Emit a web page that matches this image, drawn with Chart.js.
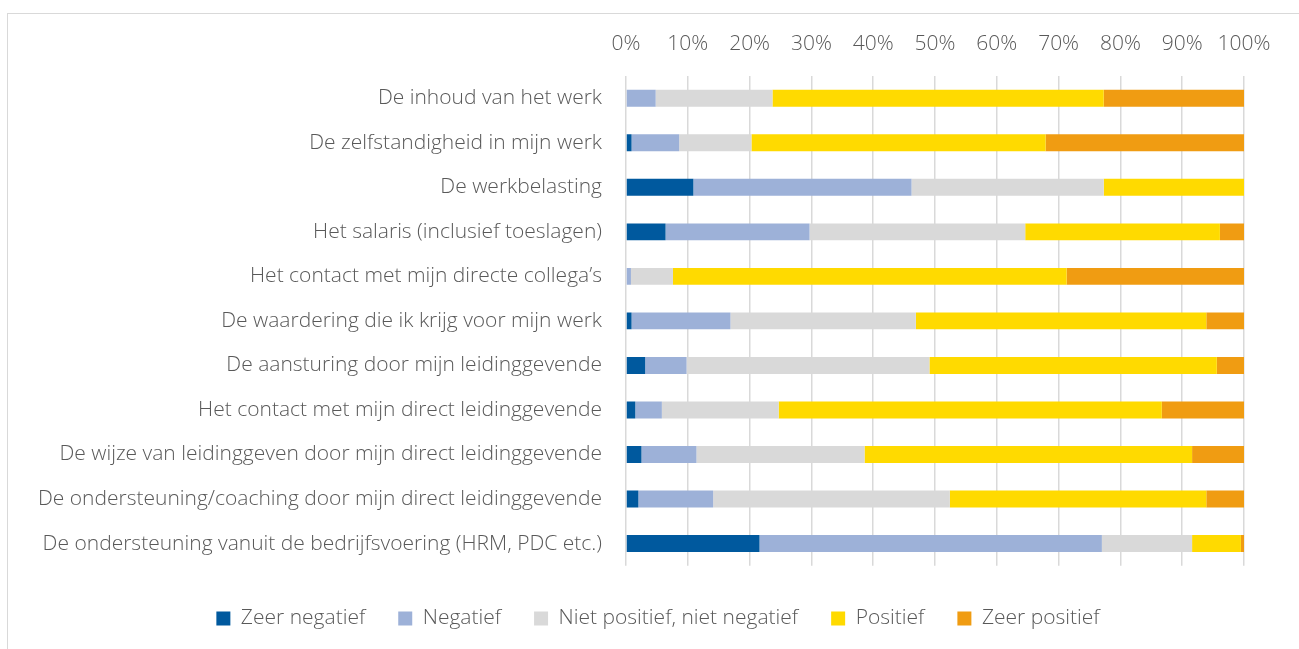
<!DOCTYPE html>
<html>
<head>
<meta charset="utf-8">
<script src="https://cdn.jsdelivr.net/npm/chart.js@4.4.1/dist/chart.umd.min.js"></script>
<style>
    html, body { margin: 0; padding: 0; background: #fff; overflow: hidden; }
    #frame { position: absolute; left: 7px; top: 13px; width: 1300px; height: 650px; border: 1px solid #d9d9d9; }
    #wrap { position: absolute; left: 0; top: 0; width: 1299px; height: 649px; }
</style>
</head>
<body>
<div id="frame"></div>
<div id="wrap"><canvas id="chart" width="1299" height="649"></canvas></div>
<script>
// Categories (top to bottom)
const categories = [
    'De inhoud van het werk',
    'De zelfstandigheid in mijn werk',
    'De werkbelasting',
    'Het salaris (inclusief toeslagen)',
    'Het contact met mijn directe collega\u2019s',
    'De waardering die ik krijg voor mijn werk',
    'De aansturing door mijn leidinggevende',
    'Het contact met mijn direct leidinggevende',
    'De wijze van leidinggeven door mijn direct leidinggevende',
    'De ondersteuning/coaching door mijn direct leidinggevende',
    'De ondersteuning vanuit de bedrijfsvoering (HRM, PDC etc.)'
];

// Series values (percent)
const zeerNegatief = [0, 0.9, 10.9, 6.4, 0, 0.9, 3.1, 1.5, 2.5, 2.0, 21.6];
const negatief     = [4.8, 7.7, 35.3, 23.3, 0.8, 16.0, 6.7, 4.3, 8.9, 12.1, 55.4];
const neutraal     = [18.9, 11.7, 31.1, 34.9, 6.8, 30.0, 39.3, 18.9, 27.2, 38.3, 14.6];
const positief     = [53.6, 47.6, 22.7, 31.5, 63.7, 47.0, 46.5, 62.0, 53.0, 41.5, 7.9];
const zeerPositief = [22.7, 32.1, 0, 3.9, 28.7, 6.1, 4.4, 13.3, 8.4, 6.1, 0.5];

const seriesNames = ['Zeer negatief', 'Negatief', 'Niet positief, niet negatief', 'Positief', 'Zeer positief'];
const seriesColors = ['#00599e', '#9db1d8', '#d9d9d9', '#ffda00', '#f09c12'];

// Tick labels for the x axis
const tickValues = [0, 10, 20, 30, 40, 50, 60, 70, 80, 90, 100];

const fontFamily = "'Open Sans', 'Noto Sans', sans-serif";

function makeDataset(i, values) {
    return {
        label: seriesNames[i],
        data: values,
        backgroundColor: seriesColors[i],
        borderWidth: 0,
        barPercentage: 0.76,
        categoryPercentage: 0.5
    };
}

// move the legend a bit to the right so it is centred like the original
const legendShift = {
    id: 'legendShift',
    afterLayout(chart) {
        chart.legend.left += 36;
        chart.legend.right += 36;
    }
};

const ctx = document.getElementById('chart').getContext('2d');
new Chart(ctx, {
    type: 'bar',
    data: {
        labels: categories,
        datasets: [
            makeDataset(0, zeerNegatief),
            makeDataset(1, negatief),
            makeDataset(2, neutraal),
            makeDataset(3, positief),
            makeDataset(4, zeerPositief)
        ]
    },
    plugins: [legendShift],
    options: {
        indexAxis: 'y',
        responsive: false,
        animation: false,
        layout: { padding: { top: 0, right: 55, bottom: 10, left: 0 } },
        scales: {
            x: {
                position: 'top',
                stacked: true,
                min: 0,
                max: 100,
                afterBuildTicks: function(scale) {
                    scale.ticks = tickValues.map(v => ({ value: v }));
                },
                afterFit: function(scale) { scale.height = 76; },
                grid: { color: '#d9d9d9', lineWidth: 1.5, drawTicks: false },
                border: { display: false },
                ticks: {
                    padding: 19,
                    color: '#595959',
                    font: { family: fontFamily, size: 21, weight: 300 },
                    callback: v => v + '%'
                }
            },
            y: {
                stacked: true,
                afterFit: function(scale) { scale.width = 626; },
                grid: { display: false },
                border: { display: false },
                ticks: {
                    padding: 16,
                    color: '#595959',
                    font: { family: fontFamily, size: 21, weight: 300 }
                }
            }
        },
        plugins: {
            legend: {
                position: 'bottom',
                // empty title only adds space above the legend items
                title: { display: true, text: '', font: { size: 1 }, padding: { top: 0, bottom: 8 } },
                labels: {
                    boxWidth: 14,
                    boxHeight: 14,
                    padding: 33,
                    color: '#595959',
                    font: { family: fontFamily, size: 21, weight: 300 }
                }
            },
            tooltip: { enabled: false }
        }
    }
});
</script>
</body>
</html>
